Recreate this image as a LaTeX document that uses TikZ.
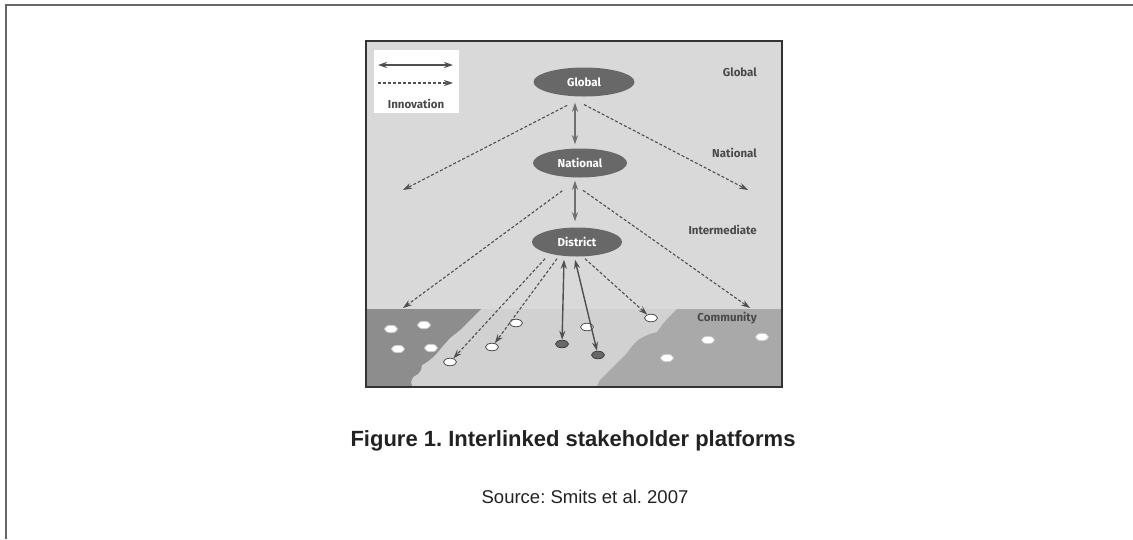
\documentclass[tikz,border=0pt]{standalone}
\usepackage{fontspec}
\setmainfont{Liberation Sans}
\newfontfamily\figfont{Fira Sans}
\usetikzlibrary{arrows.meta,shapes.geometric}
\definecolor{PanelGrey}{HTML}{D9D9D9}
\definecolor{BandGrey}{HTML}{D1D1D1}
\definecolor{LandDark}{HTML}{8D8D8D}
\definecolor{LandMid}{HTML}{A9A9A9}
\definecolor{Platform}{HTML}{686868}
\definecolor{InkGrey}{HTML}{4A4A4A}
\definecolor{LinkGrey}{HTML}{4F4F4F}
\definecolor{StemGrey}{HTML}{707070}
\definecolor{FrameGrey}{HTML}{666666}
\definecolor{CaptionInk}{HTML}{222222}
\frenchspacing

\begin{document}
\begin{tikzpicture}[x=1pt,y=-1pt,
          level/.style={ellipse,fill=Platform,text=white,inner sep=0pt,
                        minimum width=92pt,minimum height=29pt,
                        font=\figfont\bfseries\fontsize{11.5}{13}\selectfont},
          tier/.style={anchor=east,text=InkGrey,inner sep=0pt,
                       font=\figfont\bfseries\fontsize{11.5}{13}\selectfont},
          dot/.style={ellipse,draw=LinkGrey,fill=white,line width=0.8pt,
                      minimum width=13pt,minimum height=7.5pt,inner sep=0pt},
          landdot/.style={dot,draw=white!70!LinkGrey},
          fulldot/.style={dot,fill=Platform,draw=LinkGrey!80!black},
          dashlink/.style={draw=LinkGrey,line width=1.1pt,
                           dash pattern=on 3pt off 2pt,
                           -{Stealth[length=9pt,width=6pt]}},
          biarrow/.style={draw=StemGrey,line width=1.4pt,
                          {Stealth[length=9pt,width=6pt]}-{Stealth[length=9pt,width=6pt]}}]
        \useasboundingbox (0,0) rectangle (1133,539);
        % page frame
        \draw[FrameGrey,line width=2pt] (6,539) -- (6,5) -- (1133,5);
        % panel and land
        \fill[PanelGrey] (366,41) rectangle (782,387);
        \fill[BandGrey] (367,309) rectangle (781,386);
        \fill[LandDark] (367,309) -- (481,309) -- (470,320) -- (460,330) -- (450,338)
            -- (442,347) -- (437,353) -- (432,358) -- (427,362) -- (422,365) -- (421,370)
            -- (418,374) -- (413,377) -- (411,382) -- (412,386) -- (367,386) -- cycle;
        \fill[LandMid] (677,309) -- (668,318) -- (662,325) -- (657,332) -- (650,334)
            -- (643,337) -- (638,340) -- (633,345) -- (627,353) -- (618,362) -- (612,368)
            -- (605,375) -- (600,380) -- (597,386) -- (781,386) -- (781,309) -- cycle;
        \draw[draw=black!80,line width=1.8pt] (366,41) rectangle (782,387);
        % legend
        \fill[white] (374,50) rectangle (459,113);
        \coordinate (lgA) at (378,65);
        \coordinate (lgB) at (453,65);
        \coordinate (lgC) at (378,83);
        \coordinate (lgD) at (453,83);
        \draw[biarrow,draw=LinkGrey] (lgA) -- (lgB);
        \draw[dashlink] (lgC) -- (lgD);
        \node[tier,anchor=center] (lgtxt) at (416,104) {Innovation};
        % tiers
        \node[tier] (tglob) at (757,72)  {Global};
        \node[tier] (tnat)  at (757,153) {National};
        \node[tier] (tint)  at (757,230) {Intermediate};
        \node[tier] (tcom)  at (757,318) {Community};
        % platforms
        \node[level,minimum width=101pt] (glob) at (584,82) {Global};
        \node[level,minimum width=94pt] (nat)  at (580,163) {National};
        \node[level,minimum width=90pt] (dist) at (577,242) {District};
        % dots
        \node[landdot] (l1) at (391,329) {};
        \node[landdot] (l2) at (424,325) {};
        \node[landdot] (l3) at (398,349) {};
        \node[landdot] (l4) at (431,348) {};
        \node[dot] (c1) at (450,362) {};
        \node[dot] (c2) at (492,347) {};
        \node[dot] (c3) at (516,323) {};
        \node[dot] (c4) at (587,327) {};
        \node[dot] (c5) at (651,318) {};
        \node[fulldot] (d1) at (562,344) {};
        \node[fulldot] (d2) at (598,355) {};
        \node[landdot] (r1) at (708,340) {};
        \node[landdot] (r2) at (762,337) {};
        \node[landdot] (r3) at (667,358) {};
        % free ends
        \coordinate (gL) at (403,190);
        \coordinate (gR) at (748,190);
        \coordinate (nL) at (403,308);
        \coordinate (nR) at (750,308);
        % links
        \draw[biarrow,shorten <=6pt,shorten >=4pt]
            ([xshift=-9pt]glob.south) -- ([xshift=-5pt]nat.north);
        \draw[biarrow,shorten <=3pt,shorten >=6pt]
            ([xshift=-5pt]nat.south) -- ([xshift=-2pt]dist.north);
        \draw[dashlink,shorten <=19pt] (glob.south) -- (gL);
        \draw[dashlink,shorten <=17pt] ([xshift=-15pt]glob.south) -- (gR);
        \draw[dashlink,shorten <=22pt] (nat.south) -- (nL);
        \draw[dashlink,shorten <=22pt] ([xshift=-15pt]nat.south) -- (nR);
        \draw[dashlink] ([xshift=-32pt,yshift=-2pt]dist.south) -- (c1);
        \draw[dashlink] ([xshift=-20pt,yshift=-2pt]dist.south) -- (c2);
        \draw[biarrow,draw=LinkGrey] ([xshift=-13pt,yshift=-3pt]dist.south) -- (d1);
        \draw[biarrow,draw=LinkGrey] ([xshift=-2pt,yshift=-3pt]dist.south) -- (d2);
        \draw[dashlink] ([xshift=8pt,yshift=-2pt]dist.south) -- (c5);
        % caption
        \node[text=CaptionInk,font=\bfseries\fontsize{22}{26}\selectfont]
            (cap) at (573,441) {Figure 1. Interlinked stakeholder platforms};
        \node[text=CaptionInk,font=\fontsize{18.5}{22}\selectfont]
            (src) at (585,497) {Source: Smits et al. 2007};
      \end{tikzpicture}
\end{document}
